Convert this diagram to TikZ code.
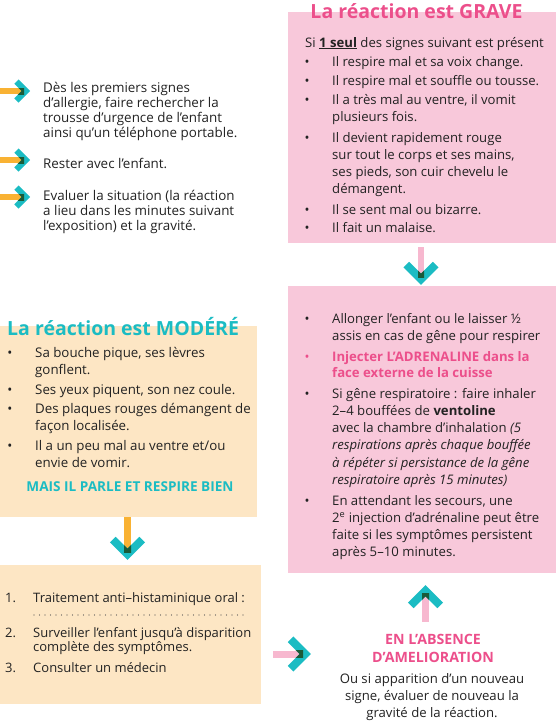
\documentclass[tikz,border=0pt]{standalone}
\usepackage{fontspec}
\setmainfont{Open Sans}
\usetikzlibrary{calc}
\definecolor{pinkbox}{HTML}{F8C8DA}
\definecolor{peach}{HTML}{FDE6C4}
\definecolor{tealc}{HTML}{1BBCC3}
\definecolor{pinkt}{HTML}{EC4F8B}
\definecolor{orstem}{HTML}{F9B233}
\definecolor{pkstem}{HTML}{F7B8CF}
\definecolor{dkgreen}{HTML}{1A5A38}
\definecolor{ink}{HTML}{222222}
\newcommand\ML[1]{\vtop{\let\\\cr\halign{##\hfil\cr#1\crcr}}}
\newcommand\MC[1]{\vtop{\let\\\cr\halign{\hfil##\hfil\cr#1\crcr}}}
\tikzset{
  x=1pt, y=-1pt,
  box/.style={fill=#1, draw=none, inner sep=0pt, anchor=north west},
  txt/.style={font=\fontsize{13.15}{17.3}\selectfont, text=ink, inner sep=0pt, anchor=base west},
  ltxt/.style={txt, font=\fontsize{13.4}{15.3}\selectfont},
  bul/.style={txt, anchor=base},
  ttl/.style={font=\fontsize{19.5}{22}\selectfont\bfseries, inner sep=0pt, anchor=base west},
  chevS/.pic={\draw[line width=6pt, miter limit=10] (-13.6,-9.4) -- (-4.2,0) -- (-13.6,9.4);},
  chevB/.pic={\draw[line width=8pt, miter limit=10] (-20.4,-14.7) -- (-5.7,0) -- (-20.4,14.7);},
}
\begin{document}
\begin{tikzpicture}
\useasboundingbox (0,0) rectangle (559,721);
% boxes
\node[box=pinkbox, minimum width=268pt, minimum height=231pt] (grave) at (288,12) {};
\node[box=pinkbox, minimum width=268pt, minimum height=287pt] (act) at (288,286) {};
\node[box=peach, minimum width=257pt, minimum height=191pt] (mod) at (0,326) {};
\node[box=peach, minimum width=261pt, minimum height=139pt] (trt) at (0,565) {};

% small left arrows
\foreach \yy/\nm in {91/a, 160/b, 197/c}{
  \coordinate (s\nm) at (0,\yy);
  \coordinate (e\nm) at (30,\yy);
  \fill[orstem] ($(s\nm)+(0,-3)$) rectangle ($(e\nm)+(-6,3)$);
  \pic[tealc] at (e\nm) {chevS};
  \begin{scope}
    \clip ($(s\nm)+(0,-3)$) rectangle ($(e\nm)+(-6,3)$);
    \pic[dkgreen] at (e\nm) {chevS};
  \end{scope}
}

% top-left texts
\node[ltxt] (t1) at (43,92) {\ML{Dès les premiers signes\\d’allergie, faire rechercher la\\trousse d’urgence de l’enfant\\ainsi qu’un téléphone portable.}};
\node[ltxt] (t2) at (43,168) {Rester avec l’enfant.};
\node[ltxt] (t3) at (43,200) {\ML{Evaluer la situation (la réaction\\a lieu dans les minutes suivant\\l’exposition) et la gravité.}};

% GRAVE box
\node[ttl, text=pinkt, anchor=base] (gt) at (416.5,18) {La réaction est GRAVE};
\node[txt] (g0) at (305,47) {Si \underline{\textbf{1 seul}} des signes suivant est présent};
\foreach \yy/\tx [count=\i] in {66/{Il respire mal et sa voix change.},
  85/{Il respire mal et souffle ou tousse.},
  104/{Il a très mal au ventre, il vomit\\plusieurs fois.},
  142/{Il devient rapidement rouge\\sur tout le corps et ses mains,\\ses pieds, son cuir chevelu le\\démangent.},
  214/{Il se sent mal ou bizarre.},
  232/{Il fait un malaise.}}{
  \node[bul] (gb\i) at (307,\yy) {•};
  \node[txt] (g\i) at (332,\yy) {\ML{\tx}};
}

% arrow grave -> act
\coordinate (pa1) at (421,247);
\coordinate (pa2) at (421,285);
\fill[pkstem] ($(pa1)+(-3,0)$) rectangle ($(pa2)+(3,-8)$);
\pic[tealc, rotate=-90] at (pa2) {chevB};
\begin{scope}
  \clip ($(pa1)+(-3,0)$) rectangle ($(pa2)+(3,-8)$);
  \pic[dkgreen, rotate=-90] at (pa2) {chevB};
\end{scope}

% actions
\node[bul] (ab1) at (307,323) {•};
\node[txt] (a1) at (332,323) {\ML{Allonger l’enfant ou le laisser ½\\assis en cas de gêne pour respirer}};
\node[bul, text=pinkt] (ab2) at (307,361) {•};
\node[txt, text=pinkt, font=\fontsize{13.15}{16.5}\selectfont\bfseries] (a2) at (332,361) {\ML{Injecter L’ADRENALINE dans la\\face externe de la cuisse}};
\node[bul] (ab3) at (307,398) {•};
\node[txt] (a3) at (332,398) {\ML{Si gêne respiratoire : faire inhaler\\2–4 bouffées de \textbf{ventoline}\\avec la chambre d’inhalation \textit{(5}\\\textit{respirations après chaque bouffée}\\\textit{à répéter si persistance de la gêne}\\\textit{respiratoire après 15 minutes)}}};
\node[bul] (ab4) at (307,505) {•};
\node[txt] (a4) at (332,505) {\ML{En attendant les secours, une\\2\textsuperscript{e} injection d’adrénaline peut être\\faite si les symptômes persistent\\après 5–10 minutes.}};

% moderate
\node[ttl, text=tealc] (mt) at (7,335) {La réaction est MODÉRÉ};
\foreach \yy/\tx [count=\i] in {357/{Sa bouche pique, ses lèvres\\gonflent.},
  394/{Ses yeux piquent, son nez coule.},
  413/{Des plaques rouges démangent de\\façon localisée.},
  450/{Il a un peu mal au ventre et/ou\\envie de vomir.}}{
  \node[bul, font=\fontsize{13.3}{17}\selectfont] (mb\i) at (10,\yy) {•};
  \node[txt, font=\fontsize{13.3}{17}\selectfont] (m\i) at (35,\yy) {\ML{\tx}};
}
\node[txt, anchor=base, text=tealc, font=\fontsize{13.6}{15}\selectfont\bfseries] (mbien) at (130,491) {MAIS IL PARLE ET RESPIRE BIEN};

% arrow mod -> trt
\coordinate (oa1) at (127.5,517);
\coordinate (oa2) at (127.5,560);
\fill[orstem] ($(oa1)+(-3.5,0)$) rectangle ($(oa2)+(3.5,-8)$);
\pic[tealc, rotate=-90] at (oa2) {chevB};
\begin{scope}
  \clip ($(oa1)+(-3.5,0)$) rectangle ($(oa2)+(3.5,-8)$);
  \pic[dkgreen, rotate=-90] at (oa2) {chevB};
\end{scope}

% treatment
\tikzset{ttxt/.style={txt, font=\fontsize{13}{14.8}\selectfont}}
\node[ttxt] (n1) at (5,602) {1.};
\node[ttxt] (r1) at (33,602) {Traitement anti–histaminique oral :};
\coordinate (d1) at (34,615);
\coordinate (d2) at (243,615);
\draw[ink!80, line width=1.1pt, line cap=round, dash pattern=on 0pt off 5.5pt] (d1) -- (d2);
\node[ttxt] (n2) at (5,637) {2.};
\node[ttxt] (r2) at (33,637) {\ML{Surveiller l’enfant jusqu’à disparition\\complète des symptômes.}};
\node[ttxt] (n3) at (5,672) {3.};
\node[ttxt] (r3) at (33,672) {Consulter un médecin};

% arrow trt -> absence (right)
\coordinate (ra1) at (273,654);
\coordinate (ra2) at (311,654);
\fill[pkstem] ($(ra1)+(0,-3.5)$) rectangle ($(ra2)+(-8,3.5)$);
\pic[tealc] at (ra2) {chevB};
\begin{scope}
  \clip ($(ra1)+(0,-3.5)$) rectangle ($(ra2)+(-8,3.5)$);
  \pic[dkgreen] at (ra2) {chevB};
\end{scope}

% arrow absence -> act (up)
\coordinate (ua1) at (425.5,622);
\coordinate (ua2) at (425.5,585);
\fill[pkstem] ($(ua1)+(-3.5,0)$) rectangle ($(ua2)+(3.5,8)$);
\pic[tealc, rotate=90] at (ua2) {chevB};
\begin{scope}
  \clip ($(ua1)+(-3.5,0)$) rectangle ($(ua2)+(3.5,8)$);
  \pic[dkgreen, rotate=90] at (ua2) {chevB};
\end{scope}

% absence text
\node[txt, anchor=base, text=pinkt, font=\fontsize{14.2}{18}\selectfont\bfseries] (ab) at (433,644) {\MC{EN L’ABSENCE\\D’AMELIORATION}};
\node[txt, anchor=base] (abt) at (432,683) {\MC{Ou si apparition d’un nouveau\\signe, évaluer de nouveau la\\gravité de la réaction.}};
\end{tikzpicture}
\end{document}
